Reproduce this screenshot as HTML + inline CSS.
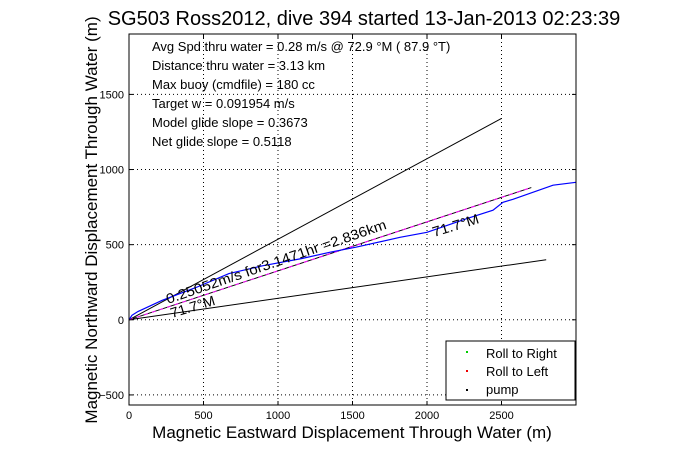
<!DOCTYPE html>
<html><head><meta charset="utf-8"><style>
body{margin:0;background:#fff;width:681px;height:454px;overflow:hidden}
svg text{font-family:"Liberation Sans",sans-serif}
</style></head><body>
<svg width="681" height="454" xmlns="http://www.w3.org/2000/svg">
<g id="grid"></g>
<g id="marks"></g>
<g id="axes"></g>
<text x="364" y="25" text-anchor="middle" font-size="20">SG503 Ross2012, dive 394 started 13-Jan-2013 02:23:39</text>
<text x="352" y="438" text-anchor="middle" font-size="17">Magnetic Eastward Displacement Through Water (m)</text>
<text transform="translate(97,220) rotate(-90)" text-anchor="middle" font-size="17">Magnetic Northward Displacement Through Water (m)</text>
<g font-size="13" style="white-space:pre">
<text x="152" y="51">Avg Spd thru water =  0.28 m/s @  72.9   °M ( 87.9 °T)</text>
<text x="152" y="70">Distance thru water =  3.13 km</text>
<text x="152" y="89">Max buoy (cmdfile) = 180 cc</text>
<text x="152" y="108">Target w = 0.091954 m/s</text>
<text x="152" y="127">Model glide slope = 0.3673</text>
<text x="152" y="146">Net glide slope = 0.5118</text>
</g>
<text font-size="14" textLength="232" lengthAdjust="spacingAndGlyphs" transform="translate(168,304) rotate(-19)">0.25052m/s for3.1471hr =2.836km</text>
<text font-size="14" textLength="46" lengthAdjust="spacingAndGlyphs" transform="translate(172,318) rotate(-17)">71.7°M</text>
<text font-size="14" textLength="48" lengthAdjust="spacingAndGlyphs" transform="translate(434,237) rotate(-17)">71.7°M</text>
<g>
<rect x="446" y="341" width="129" height="59" fill="#fff" stroke="#000"/>
<rect x="466" y="351" width="2" height="2" fill="#0c0"/><text x="486" y="358" font-size="13">Roll to Right</text>
<rect x="466" y="370" width="2" height="2" fill="#e00"/><text x="486" y="376" font-size="13">Roll to Left</text>
<rect x="466" y="389" width="2" height="2" fill="#000"/><text x="486" y="394" font-size="13">pump</text>
</g>
</svg>
<script>
const xTicks=[0,500,1000,1500,2000,2500];
const yTicks=[-500,0,500,1000,1500];
const upperX=[0,2500],upperY=[0,1340];
const midX=[0,2700],midY=[0,880];
const lowerX=[0,2800],lowerY=[0,400];
const trackX=[0,20,60,221,450,671,900,1161,1350,1523,1819,2000,2268,2443,2510,2577,2846,3000];
const trackY=[0,30,55,129,215,308,360,408,450,483,549,582,674,729,782,802,896,915];
const L=129,R=576,T=34,B=405,xmin=0,xmax=3000,ymin=-567,ymax=1902;
const sx=v=>L+(v-xmin)/(xmax-xmin)*(R-L);
const sy=v=>B-(v-ymin)/(ymax-ymin)*(B-T);
const NS='http://www.w3.org/2000/svg';
function mk(t,a,p){const e=document.createElementNS(NS,t);for(const k in a)e.setAttribute(k,a[k]);p.appendChild(e);return e;}
const grid=document.getElementById('grid'),axes=document.getElementById('axes'),marks=document.getElementById('marks');
xTicks.forEach(v=>{const x=sx(v);
 if(v>0){const g=mk('line',{x1:x,x2:x,y1:T,y2:B,stroke:'#000','stroke-dasharray':'1,3'},grid);
 
 }
 const t=mk('text',{x:x,y:B+14,'text-anchor':'middle','font-size':'11'},axes);t.textContent=v;
 
 
 mk('line',{x1:x,x2:x,y1:B,y2:B-4,stroke:'#000'},axes);mk('line',{x1:x,x2:x,y1:T,y2:T+4,stroke:'#000'},axes);});
yTicks.forEach(v=>{const y=sy(v);
 const g=mk('line',{x1:L,x2:R,y1:y,y2:y,stroke:'#000','stroke-dasharray':'1,3'},grid);
 
 
 const t=mk('text',{x:L-5,y:y+4,'text-anchor':'end','font-size':'11'},axes);t.textContent=v<0?'\u2212'+(-v):v;
 
 
 mk('line',{x1:L,x2:L+4,y1:y,y2:y,stroke:'#000'},axes);mk('line',{x1:R,x2:R-4,y1:y,y2:y,stroke:'#000'},axes);});
const fr=mk('rect',{x:L,y:T,width:R-L,height:B-T,fill:'none',stroke:'#000'},axes);


function line(xs,ys,st){return mk('polyline',Object.assign({points:xs.map((x,i)=>sx(x)+','+sy(ys[i])).join(' '),fill:'none'},st),marks);}
let e;
e=line(upperX,upperY,{stroke:'#000'});


e=line(lowerX,lowerY,{stroke:'#000'});


e=line(midX,midY,{stroke:'#000'});


e=line(midX,midY,{stroke:'#f0f','stroke-dasharray':'4,4'});


e=line(trackX,trackY,{stroke:'#00f','stroke-width':'1.2'});


</script>
</body></html>
